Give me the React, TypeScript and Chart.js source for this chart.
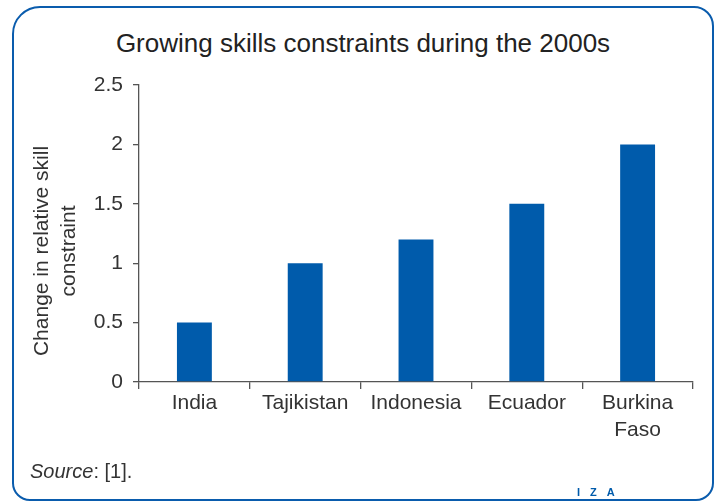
import { useEffect, useRef } from "react";
import { Chart, registerables } from "chart.js";

Chart.register(...registerables);

const titleText = "Growing skills constraints during the 2000s";
const categories = ["India", "Tajikistan", "Indonesia", "Ecuador", "Burkina Faso"];
const skillConstraintChange = [0.5, 1, 1.2, 1.5, 2];
const yAxisTitleLines = ["Change in relative skill", "constraint"];
const yMin = 0;
const yMax = 2.5;
const yStep = 0.5;
const sourceLabel = "Source";
const sourceRest = ": [1].";
const logoText = "IZA";

const FONT = '"Liberation Sans", Arial, sans-serif';
const BLUE = "#005bab";
const FRAME_BLUE = "#0a5cad";
const AXIS = "#555555";
const TEXT = "#333333";

const yTitlePlugin = {
  id: "yTitlePlugin",
  afterDraw(chart: any) {
    const ctx = chart.ctx;
    ctx.save();
    ctx.fillStyle = TEXT;
    ctx.font = `21px ${FONT}`;
    ctx.textAlign = "center";
    ctx.textBaseline = "alphabetic";
    yAxisTitleLines.forEach((line, i) => {
      ctx.save();
      ctx.translate(48 + 27 * i, 251);
      ctx.rotate(-Math.PI / 2);
      ctx.fillText(line, 0, 0);
      ctx.restore();
    });
    ctx.restore();
  },
};

export default function App() {
  const canvasRef = useRef<HTMLCanvasElement | null>(null);

  useEffect(() => {
    if (!canvasRef.current) return;
    const chart = new Chart(canvasRef.current, {
      type: "bar",
      data: {
        labels: categories.map((c) => (c.includes(" ") ? c.split(" ") : c)) as any,
        datasets: [
          {
            data: skillConstraintChange,
            backgroundColor: BLUE,
            barPercentage: 0.315,
            categoryPercentage: 1,
          },
        ],
      },
      options: {
        responsive: false,
        animation: false,
        devicePixelRatio: 1,
        layout: { padding: { left: 0, right: 25, top: 85, bottom: 0 } },
        plugins: {
          legend: { display: false },
          tooltip: { enabled: false },
          title: { display: false },
        },
        scales: {
          x: {
            grid: {
              offset: true,
              drawOnChartArea: false,
              drawTicks: true,
              tickLength: 7,
              color: AXIS,
              lineWidth: 1.3,
            },
            border: { color: AXIS, width: 1.3 },
            ticks: {
              font: { family: FONT, size: 21, lineHeight: 1.28 },
              color: TEXT,
              padding: 1,
              maxRotation: 0,
              autoSkip: false,
            },
            afterFit: (s: any) => {
              s.height = 120;
            },
          },
          y: {
            min: yMin,
            max: yMax,
            ticks: {
              stepSize: yStep,
              font: { family: FONT, size: 21 },
              color: TEXT,
              padding: 10,
              callback: (v: any) => String(Number(v)),
            },
            grid: {
              drawOnChartArea: false,
              drawTicks: true,
              tickLength: 6,
              color: AXIS,
              lineWidth: 1.3,
            },
            border: { color: AXIS, width: 1.3 },
            afterFit: (s: any) => {
              s.width = 139;
            },
          },
        },
      },
      plugins: [yTitlePlugin],
    });
    return () => chart.destroy();
  }, []);

  return (
    <div style={{ position: "absolute", left: 0, top: 0, width: 718, height: 502, background: "#fff", fontFamily: FONT }}>
      <div
        style={{
          position: "absolute",
          left: 12,
          top: 6,
          width: 702,
          height: 495,
          boxSizing: "border-box",
          border: `2.5px solid ${FRAME_BLUE}`,
          borderRadius: "28px 20px 18px 18px",
        }}
      />
      <div
        style={{
          position: "absolute",
          left: 12,
          width: 702,
          top: 27.5,
          textAlign: "center",
          fontSize: 26,
          lineHeight: "30px",
          color: "#222",
          whiteSpace: "nowrap",
        }}
      >
        {titleText}
      </div>
      <canvas
        ref={canvasRef}
        width={718}
        height={502}
        style={{ position: "absolute", left: 0, top: 0, width: 718, height: 502 }}
      />
      <div
        style={{
          position: "absolute",
          left: 30,
          top: 459,
          fontSize: 20,
          lineHeight: "24px",
          color: TEXT,
          whiteSpace: "nowrap",
        }}
      >
        <i>{sourceLabel}</i>
        {sourceRest}
      </div>
      <div
        style={{
          position: "absolute",
          left: 577,
          top: 485.5,
          fontSize: 11,
          lineHeight: "12px",
          fontWeight: "bold",
          letterSpacing: 10,
          color: BLUE,
          whiteSpace: "nowrap",
        }}
      >
        {logoText}
      </div>
    </div>
  );
}
